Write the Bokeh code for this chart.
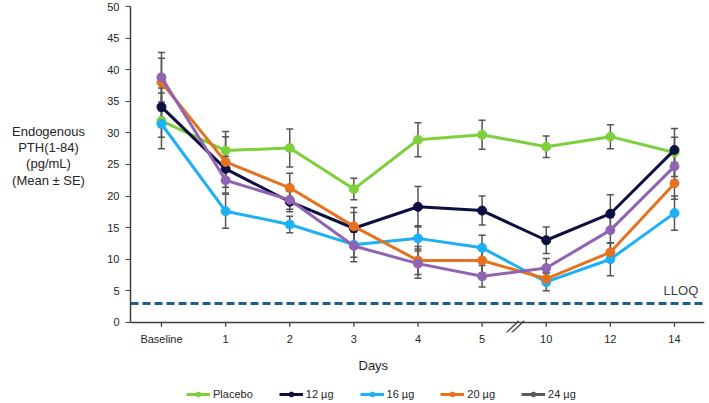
from bokeh.plotting import figure
from bokeh.layouts import row, column
from bokeh.models import (Range1d, FixedTicker, Whisker, ColumnDataSource, Legend,
                          LegendItem, Label, Span, TeeHead, Title)
from bokeh.embed import file_html
from bokeh.resources import INLINE

days = ["Baseline", "1", "2", "3", "4", "5", "10", "12", "14"]
series_names = ["Placebo", "12 µg", "16 µg", "20 µg", "24 µg"]
placebo = [31.9, 27.2, 27.6, 21.1, 28.9, 29.7, 27.8, 29.4, 26.9]
placebo_se = [4.4, 3.0, 3.0, 1.7, 2.7, 2.3, 1.7, 1.9, 3.8]
dose12 = [34.1, 24.3, 19.1, 14.9, 18.3, 17.7, 13.0, 17.2, 27.3]
dose12_se = [3.0, 2.0, 1.6, 2.5, 3.2, 2.3, 2.1, 3.0, 2.0]
dose16 = [31.4, 17.6, 15.5, 12.3, 13.3, 11.8, 6.4, 10.0, 17.3]
dose16_se = [2.1, 2.7, 1.3, 2.0, 2.0, 2.0, 1.4, 2.6, 2.7]
dose20 = [38.0, 25.4, 21.3, 15.2, 9.8, 9.8, 6.9, 11.1, 22.0]
dose20_se = [3.8, 4.0, 2.3, 3.0, 2.2, 2.0, 1.0, 1.5, 2.5]
dose24 = [38.8, 22.5, 19.4, 12.1, 9.3, 7.3, 8.6, 14.6, 24.7]
dose24_se = [3.9, 2.0, 1.5, 2.5, 2.3, 1.7, 1.5, 2.0, 2.2]
lloq = 3
y_ticks = [0, 5, 10, 15, 20, 25, 30, 35, 40, 45, 50]
y_label_lines = ["Endogenous", "PTH(1-84)", "(pg/mL)", "(Mean ± SE)"]

line_colors = ["#7ED03B", "#0E0E42", "#1CB0F6", "#E5721F", "#9063B3"]
legend_colors = ["#7ED03B", "#0E0E42", "#1CB0F6", "#E5721F", "#595959"]
values = [placebo, dose12, dose16, dose20, dose24]
errors = [placebo_se, dose12_se, dose16_se, dose20_se, dose24_se]

FONT = "Liberation Sans"
TXT = "#262626"
AX = "#404040"
H_TOP = 381
H_LEG = 22

xs = list(range(len(days)))
Y_MIN = -1.6

# ---- left label panel ----
lab = figure(frame_width=100, frame_height=H_TOP, output_backend="svg",
             toolbar_location=None,
             x_range=Range1d(0, 100), y_range=Range1d(0, H_TOP),
             x_axis_location=None, y_axis_location=None,
             min_border_left=0, min_border_right=0, min_border_top=0, min_border_bottom=0)
lab.outline_line_color = None
lab.xgrid.grid_line_color = None
lab.ygrid.grid_line_color = None
for i, txt in enumerate(y_label_lines):
    lab.add_layout(Label(x=48, y=H_TOP - (125 + 16.2 * i), text=txt,
                         text_font=FONT, text_font_size="13px", text_color=TXT,
                         text_align="center", text_baseline="middle"))

# ---- main plot ----
p = figure(frame_width=574, frame_height=326, output_backend="svg",
           toolbar_location=None, x_range=Range1d(-0.483, 8.468),
           y_range=Range1d(Y_MIN, 50), min_border_left=30, min_border_top=6,
           min_border_right=3, min_border_bottom=H_TOP - 332)
p.outline_line_color = None
p.xgrid.grid_line_color = None
p.ygrid.grid_line_color = None

# y axis
p.yaxis.bounds = (0, 50)
p.yaxis.ticker = FixedTicker(ticks=y_ticks)
p.yaxis.minor_tick_line_color = None
p.yaxis.major_tick_out = 5
p.yaxis.major_tick_in = 0
p.yaxis.axis_line_color = AX
p.yaxis.axis_line_width = 1.5
p.yaxis.major_tick_line_color = AX
p.yaxis.major_label_text_font = FONT
p.yaxis.major_label_text_font_size = "11px"
p.yaxis.major_label_text_color = TXT
p.yaxis.major_label_standoff = 6

# x axis (line drawn at y=0 below)
p.xaxis.ticker = FixedTicker(ticks=xs)
p.xaxis.major_label_overrides = {i: d for i, d in zip(xs, days)}
p.xaxis.minor_tick_line_color = None
p.xaxis.major_tick_line_color = None
p.xaxis.major_tick_out = 0
p.xaxis.major_tick_in = 0
p.xaxis.axis_line_color = None
p.xaxis.major_label_text_font = FONT
p.xaxis.major_label_text_font_size = "11px"
p.xaxis.major_label_text_color = TXT
p.xaxis.major_label_standoff = 0

p.add_layout(Title(text="Days", align="left", offset=228, text_font=FONT,
                   text_font_size="13px", text_font_style="normal",
                   text_color=TXT, standoff=17), "below")

p.add_layout(Span(location=0, dimension="width", line_color=AX, line_width=1.5))
p.segment(x0=xs, y0=[0] * len(xs), x1=xs, y1=[-0.7] * len(xs),
          line_color=AX, line_width=1.3)

# axis break marks between day 5 and day 10
bx = (xs[5] + xs[6]) / 2
p.segment(x0=[bx - 0.13, bx - 0.045], y0=[-1.7, -1.7],
          x1=[bx + 0.07, bx + 0.155], y1=[0.25, 0.25],
          line_color=AX, line_width=1.3)

# LLOQ line
p.add_layout(Span(location=lloq, dimension="width", line_color="#1B5E8C",
                  line_width=3, line_dash="8 4"))
p.add_layout(Label(x=8.1, y=lloq + 2.0, text="LLOQ", text_font=FONT,
                   text_font_size="13px", text_color="#404040",
                   text_align="center", text_baseline="middle"))

# series
for name, vals, errs, lc in zip(series_names, values, errors, line_colors):
    src = ColumnDataSource(dict(x=xs, y=vals,
                                upper=[v + e for v, e in zip(vals, errs)],
                                lower=[v - e for v, e in zip(vals, errs)]))
    p.line("x", "y", source=src, line_color=lc, line_width=3)
    p.scatter("x", "y", source=src, size=9, fill_color=lc, line_color=lc)
    p.add_layout(Whisker(source=src, base="x", upper="upper", lower="lower",
                         line_color="#555555", line_width=1.5,
                         upper_head=TeeHead(size=7, line_color="#555555", line_width=1.5),
                         lower_head=TeeHead(size=7, line_color="#555555", line_width=1.5)))

# ---- legend strip ----
leg = figure(frame_width=707, frame_height=H_LEG, output_backend="svg", toolbar_location=None,
             x_range=Range1d(0, 1), y_range=Range1d(0, 1),
             x_axis_location=None, y_axis_location=None,
             min_border_left=0, min_border_right=0, min_border_top=0, min_border_bottom=0)
leg.outline_line_color = None
leg.xgrid.grid_line_color = None
leg.ygrid.grid_line_color = None
legend_items = []
for name, gc in zip(series_names, legend_colors):
    hidden = ColumnDataSource(dict(x=[float("nan")], y=[float("nan")]))
    lr = leg.line("x", "y", source=hidden, line_color=gc, line_width=3)
    sr = leg.scatter("x", "y", source=hidden, size=8, fill_color=gc, line_color=gc)
    legend_items.append(LegendItem(label=name, renderers=[lr, sr]))
legend = Legend(items=legend_items, orientation="horizontal", location=(186, 3),
                label_text_font=FONT, label_text_font_size="11px",
                label_text_color=TXT, glyph_width=24, glyph_height=12,
                label_standoff=3, spacing=26, border_line_color=None,
                padding=0, margin=0, background_fill_alpha=0,
                label_height=12)
leg.add_layout(legend, "center")

open("out.html", "w").write(file_html(column(row(lab, p), leg), INLINE))
